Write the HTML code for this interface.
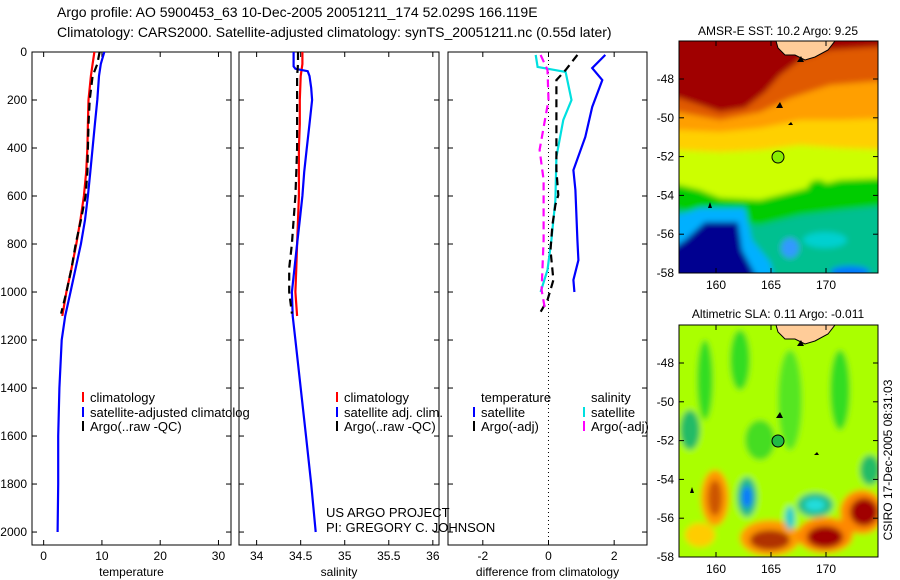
<!DOCTYPE html>
<html><head><meta charset="utf-8"><style>
html,body{margin:0;padding:0;background:#fff}
svg{display:block;font-family:"Liberation Sans",sans-serif}
</style></head><body>
<svg id="fig" width="900" height="580" viewBox="0 0 900 580">
<defs>
<filter id="blur" x="-10%" y="-10%" width="120%" height="120%"><feGaussianBlur stdDeviation="3"/></filter>
<clipPath id="cm1"><rect x="679" y="41" width="199" height="232"/></clipPath>
<clipPath id="cm2"><rect x="679" y="325" width="199" height="232"/></clipPath>
<clipPath id="cp1"><rect x="32" y="52" width="199" height="493"/></clipPath>
<clipPath id="cp2"><rect x="239" y="52" width="200" height="493"/></clipPath>
<clipPath id="cp3"><rect x="448" y="52" width="199" height="493"/></clipPath>
</defs>
<text x="57" y="17" font-size="14">Argo profile: AO 5900453_63 10-Dec-2005 20051211_174 52.029S 166.119E</text>
<text x="57" y="37" font-size="14">Climatology: CARS2000. Satellite-adjusted climatology: synTS_20051211.nc (0.55d later)</text>

<!-- Top map -->
<g>
<g clip-path="url(#cm1)">
<g filter="url(#blur)">
<rect x="670" y="30" width="220" height="260" fill="#00c090"/>
<polygon fill="#00cc00" points="670,30 890,30 890,205 840,210 800,215 760,225 720,220 679,210 670,210"/>
<polygon fill="#ccff00" points="670,30 890,30 890,178 840,180 800,190 760,200 720,198 700,190 679,185 670,185"/>
<polygon fill="#ffd000" points="670,30 890,30 890,150 840,148 800,145 760,150 720,152 679,150 670,150"/>
<polygon fill="#ff9f00" points="670,30 890,30 890,118 840,120 800,120 760,128 720,132 679,130 670,130"/>
<polygon fill="#e05a00" points="670,30 890,30 890,80 830,85 790,98 760,112 720,120 679,112 670,112"/>
<polygon fill="#a00000" points="670,30 890,30 890,46 830,50 800,60 780,75 765,92 745,108 720,112 700,105 679,98 670,98"/>
<ellipse cx="818" cy="188" rx="10" ry="8" fill="#00cc00"/>
<polygon fill="#00b0ff" points="679,215 700,208 745,208 752,240 770,262 775,280 670,280 670,215"/>
<polygon fill="#000090" points="685,240 705,222 738,222 742,250 758,280 670,280 670,250"/>
<ellipse cx="790" cy="248" rx="9" ry="10" fill="#3399ff"/>
<ellipse cx="825" cy="240" rx="22" ry="8" fill="#00d0d0"/>
<ellipse cx="850" cy="272" rx="20" ry="6" fill="#0077ff"/>
</g>
<polygon fill="#ffcc99" stroke="#000" stroke-width="1" points="776,41 835,41 828,50 815,57 805,60 795,55 785,55 778,48"/>
<path d="M797 62 l4 -6 l3 6 z M776 108 l4 -6 l3 6 z M788 125 l3 -3 l2 3 z M708 208 l2 -6 l2 6 z" fill="#000"/>
<circle cx="778" cy="157" r="6" fill="#88ee00" stroke="#000" stroke-width="1"/>
</g>
<rect x="679" y="41" width="199" height="232" fill="none" stroke="#000"/>
</g>
<text x="778" y="35" font-size="12" text-anchor="middle">AMSR-E SST: 10.2 Argo: 9.25</text>

<!-- Bottom map -->
<g>
<g clip-path="url(#cm2)">
<g filter="url(#blur)">
<rect x="670" y="315" width="220" height="250" fill="#aaff00"/>
<ellipse cx="705" cy="380" rx="8" ry="40" fill="#33dd22"/>
<ellipse cx="740" cy="360" rx="10" ry="30" fill="#33dd22"/>
<ellipse cx="790" cy="400" rx="12" ry="50" fill="#55e622"/>
<ellipse cx="840" cy="390" rx="10" ry="40" fill="#33dd22"/>
<ellipse cx="690" cy="430" rx="10" ry="20" fill="#22bb66"/>
<ellipse cx="760" cy="440" rx="15" ry="20" fill="#44dd22"/>
<ellipse cx="870" cy="470" rx="10" ry="15" fill="#22bb66"/>
<ellipse cx="715" cy="498" rx="14" ry="28" fill="#ff9900"/>
<ellipse cx="715" cy="498" rx="7" ry="18" fill="#cc5500"/>
<ellipse cx="700" cy="535" rx="15" ry="12" fill="#ffcc00"/>
<ellipse cx="770" cy="538" rx="30" ry="18" fill="#ff9900"/>
<ellipse cx="770" cy="540" rx="20" ry="10" fill="#b03000"/>
<ellipse cx="825" cy="535" rx="28" ry="18" fill="#ff8800"/>
<ellipse cx="825" cy="537" rx="18" ry="11" fill="#a00000"/>
<ellipse cx="862" cy="512" rx="22" ry="22" fill="#ff8800"/>
<ellipse cx="864" cy="512" rx="14" ry="14" fill="#a00000"/>
<ellipse cx="747" cy="497" rx="10" ry="20" fill="#22bb88"/>
<ellipse cx="747" cy="497" rx="5" ry="11" fill="#1177ff"/>
<ellipse cx="815" cy="505" rx="18" ry="12" fill="#22bb88"/>
<ellipse cx="815" cy="505" rx="10" ry="6" fill="#22dddd"/>
<ellipse cx="790" cy="518" rx="5" ry="12" fill="#22cccc"/>
</g>
<polygon fill="#ffcc99" stroke="#000" stroke-width="1" points="776,325 835,325 828,334 815,341 805,344 795,339 785,339 778,332"/>
<path d="M797 346 l4 -6 l3 6 z M776 418 l4 -6 l3 6 z M814 455 l3 -3 l2 3 z M690 493 l2 -6 l2 6 z" fill="#000"/>
<circle cx="778" cy="441" r="6" fill="#22bb44" stroke="#000" stroke-width="1"/>
</g>
<rect x="679" y="325" width="199" height="232" fill="none" stroke="#000"/>
</g>
<text x="778" y="318" font-size="12" text-anchor="middle">Altimetric SLA: 0.11 Argo: -0.011</text>
<text transform="translate(892,460) rotate(-90)" font-size="12" text-anchor="middle">CSIRO 17-Dec-2005 08:31:03</text>

<g id="plots"></g>
</svg>
<script>
// ---- data ----
const depthTicks = [0,200,400,600,800,1000,1200,1400,1600,1800,2000];
const tempTicks = [0,10,20,30];
const salTicks = [34,34.5,35,35.5,36];
const diffTicks = [-2,0,2];
const mapLatTicks = [-48,-50,-52,-54,-56,-58];
const mapLonTicks = [160,165,170];

const climDepth = [0,50,100,200,300,400,500,600,700,800,900,1000,1100];
const climTemp = [8.7,8.4,8.1,7.7,7.6,7.5,7.3,6.9,6.3,5.6,4.8,3.9,3.2];
const satDepth = [0,50,100,200,300,400,500,600,700,800,900,1000,1100,1200,1400,1600,1800,2000];
const satTemp = [10.4,9.8,9.5,9.2,8.8,8.4,8.0,7.6,7.1,6.4,5.5,4.6,3.7,3.1,2.7,2.5,2.5,2.4];
const argoDepth = [0,50,100,200,300,400,500,600,700,800,900,1000,1090];
const argoTemp = [9.6,9.2,8.4,7.9,7.7,7.6,7.5,7.2,6.4,5.5,4.8,3.9,3.0];

const climSal = [34.52,34.52,34.5,34.49,34.49,34.48,34.48,34.48,34.47,34.46,34.45,34.44,34.46];
const satSalDepth = [0,60,70,80,100,150,200,300,400,500,600,700,800,900,1000,1100,1200,1400,1600,1800,2000];
const satSal = [34.42,34.42,34.44,34.58,34.6,34.62,34.63,34.6,34.57,34.54,34.52,34.49,34.46,34.43,34.4,34.41,34.44,34.5,34.56,34.62,34.67];
const argoSal = [34.47,34.47,34.46,34.46,34.46,34.46,34.45,34.44,34.42,34.40,34.37,34.37,34.40];

const dTempSatDepth = [12,67,117,229,354,492,575,783,867,950,1000];
const dTempSat = [1.73,1.33,1.64,1.33,1.12,0.76,0.82,0.88,0.91,0.76,0.79];
const dSalSatDepth = [12,62,83,200,283,437,617,783,908,1000];
const dSalSat = [-0.39,-0.33,0.52,0.7,0.45,0.24,0.21,0.09,-0.03,-0.24];
const dTempArgoDepth = [12,75,117,283,492,596,637,721,825,950,1033,1083];
const dTempArgo = [0.88,0.52,0.24,0.24,0.24,0.3,0.21,0.12,0.06,0.15,-0.03,-0.24];
const dSalArgoDepth = [12,75,200,408,533,783,992,1083];
const dSalArgo = [-0.24,-0.03,0,-0.27,-0.15,-0.15,-0.21,-0.09];

// ---- layout ----
const NS = 'http://www.w3.org/2000/svg';
const root = document.getElementById('plots');
const Y0 = 52, Y1 = 545, DMAX = 2054;
const yD = d => Y0 + d / DMAX * (Y1 - Y0);
const panels = [
  {x0:32, x1:231, vmin:-2, vmax:32.15, ticks:tempTicks, label:'temperature', clip:'cp1', name:'temperature-panel'},
  {x0:239, x1:439, vmin:33.8, vmax:36.07, ticks:salTicks, label:'salinity', clip:'cp2', name:'salinity-panel'},
  {x0:448, x1:647, vmin:-3.06, vmax:3, ticks:diffTicks, label:'difference from climatology', clip:'cp3', name:'difference-panel'}
];
panels.forEach(p => p.x = v => p.x0 + (v - p.vmin) / (p.vmax - p.vmin) * (p.x1 - p.x0));

function mk(tag, attrs, parent) {
  const e = document.createElementNS(NS, tag);
  for (const k in attrs) e.setAttribute(k, attrs[k]);
  (parent || root).appendChild(e);
  return e;
}
function line(p, vals, depths, color, dash, name) {
  const g = mk('g', {'clip-path':'url(#' + p.clip + ')'});
  const pts = vals.map((v, i) => p.x(v).toFixed(1) + ',' + yD(depths[i]).toFixed(1)).join(' ');
  const el = mk('polyline', {points:pts, fill:'none', stroke:color, 'stroke-width':2.2}, g);
  if (dash) el.setAttribute('stroke-dasharray', dash);
  
  
}

panels.forEach((p, pi) => {
  const ax = mk('rect', {x:p.x0, y:Y0, width:p.x1 - p.x0, height:Y1 - Y0, fill:'none', stroke:'#000'});
  
  
  p.ticks.forEach(t => {
    const x = p.x(t);
    mk('line', {x1:x, x2:x, y1:Y1, y2:Y1 - 5, stroke:'#000'});
    mk('line', {x1:x, x2:x, y1:Y0, y2:Y0 + 5, stroke:'#000'});
    const tl = mk('text', {x:x, y:560, 'font-size':12, 'text-anchor':'middle'});
    tl.textContent = String(t);
    
    
  });
  depthTicks.forEach(d => {
    const y = yD(d);
    mk('line', {x1:p.x0, x2:p.x0 + 5, y1:y, y2:y, stroke:'#000'});
    mk('line', {x1:p.x1, x2:p.x1 - 5, y1:y, y2:y, stroke:'#000'});
    if (pi === 0) {
      const tl = mk('text', {x:27, y:y + 4, 'font-size':12, 'text-anchor':'end'});
      tl.textContent = String(d);
      
      
    }
  });
  const xl = mk('text', {x:(p.x0 + p.x1) / 2, y:576, 'font-size':12, 'text-anchor':'middle'});
  xl.textContent = p.label;
  
  
});

const [pT, pS, pD] = panels;
mk('line', {x1:pD.x(0), x2:pD.x(0), y1:Y0, y2:Y1, stroke:'#000', 'stroke-dasharray':'1,3'});

line(pT, climTemp, climDepth, '#ff0000', null, 'temperature-climatology-line');
line(pT, satTemp, satDepth, '#0000ff', null, 'temperature-satellite-line');
line(pT, argoTemp, argoDepth, '#000', '8,5', 'temperature-argo-line');
line(pS, climSal, climDepth, '#ff0000', null, 'salinity-climatology-line');
line(pS, satSal, satSalDepth, '#0000ff', null, 'salinity-satellite-line');
line(pS, argoSal, argoDepth, '#000', '8,5', 'salinity-argo-line');
line(pD, dTempSat, dTempSatDepth, '#0000ff', null, 'diff-temperature-satellite-line');
line(pD, dSalSat, dSalSatDepth, '#00e0e0', null, 'diff-salinity-satellite-line');
line(pD, dTempArgo, dTempArgoDepth, '#000', '8,5', 'diff-temperature-argo-line');
line(pD, dSalArgo, dSalArgoDepth, '#ff00ff', '8,5', 'diff-salinity-argo-line');

function legend(x, y, color, text) {
  if (color) mk('line', {x1:x, x2:x, y1:y - 10, y2:y, stroke:color, 'stroke-width':2});
  const t = mk('text', {x:x + 7, y:y, 'font-size':13});
  t.textContent = text;
  
  
}
legend(83, 402, '#ff0000', 'climatology');
legend(83, 417, '#0000ff', 'satellite-adjusted climatolog');
legend(83, 431, '#000', 'Argo(..raw -QC)');
legend(337, 402, '#ff0000', 'climatology');
legend(337, 417, '#0000ff', 'satellite adj. clim.');
legend(337, 431, '#000', 'Argo(..raw -QC)');
legend(474, 402, null, 'temperature');
legend(474, 417, '#0000ff', 'satellite');
legend(474, 431, '#000', 'Argo(-adj)');
legend(584, 402, null, 'salinity');
legend(584, 417, '#00e0e0', 'satellite');
legend(584, 431, '#ff00ff', 'Argo(-adj)');
const c1 = mk('text', {x:326, y:517, 'font-size':13});
c1.textContent = 'US ARGO PROJECT';


const c2 = mk('text', {x:326, y:532, 'font-size':13});
c2.textContent = 'PI: GREGORY C. JOHNSON';



[{top:41, lat48:79}, {top:325, lat48:363}].forEach(m => {
  const yL = lat => m.lat48 + (-48 - lat) * 19.4;
  const xL = lon => 716 + (lon - 160) * 11;
  mapLatTicks.forEach(l => {
    const y = yL(l);
    mk('line', {x1:679, x2:684, y1:y, y2:y, stroke:'#000'});
    mk('line', {x1:878, x2:873, y1:y, y2:y, stroke:'#000'});
    const t = mk('text', {x:674, y:y + 4, 'font-size':12, 'text-anchor':'end'});
    t.textContent = String(l);
    
    
  });
  mapLonTicks.forEach(l => {
    const x = xL(l);
    mk('line', {x1:x, x2:x, y1:m.top, y2:m.top + 5, stroke:'#000'});
    mk('line', {x1:x, x2:x, y1:m.top + 232, y2:m.top + 227, stroke:'#000'});
    const t = mk('text', {x:x, y:m.top + 248, 'font-size':12, 'text-anchor':'middle'});
    t.textContent = String(l);
    
    
  });
});
</script>
</body></html>
